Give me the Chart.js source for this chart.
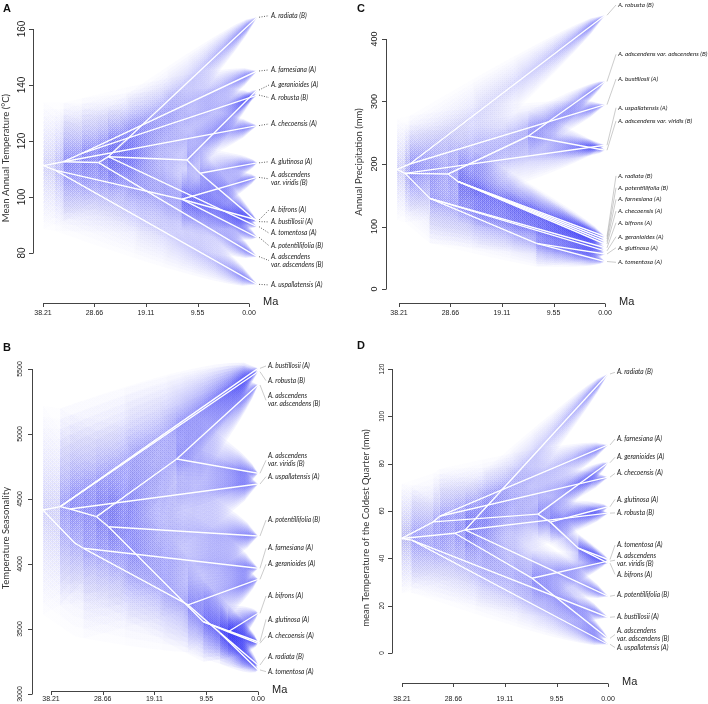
<!DOCTYPE html>
<html>
<head>
<meta charset="utf-8">
<script src="https://cdn.jsdelivr.net/npm/chart.js@4.4.1/dist/chart.umd.min.js"></script>
<style>
  html, body { margin: 0; padding: 0; background: #fff; }
  #wrap { position: relative; width: 708px; height: 704px; overflow: hidden; }
  canvas { position: absolute; }
</style>
</head>
<body>
<div id="wrap">
  <canvas id="panelA" width="354" height="340" style="left:0;top:0"></canvas>
  <canvas id="panelC" width="354" height="340" style="left:354px;top:0"></canvas>
  <canvas id="panelB" width="354" height="364" style="left:0;top:340px"></canvas>
  <canvas id="panelD" width="354" height="364" style="left:354px;top:340px"></canvas>
</div>
<script>
// ---- shared data ----
const X_TICKS = [38.21, 28.66, 19.11, 9.55, 0.00];
const TIP_IDS = ['rad', 'far', 'ger', 'rob', 'che', 'glu', 'vir', 'bif', 'bus', 'tom', 'pot', 'ads', 'usp'];
const TIP_LABELS_WRAPPED = [
  'A. radiata (B)', 'A. farnesiana (A)', 'A. geranioides (A)', 'A. robusta (B)',
  'A. checoensis (A)', 'A. glutinosa (A)', 'A. adscendens\nvar. viridis (B)', 'A. bifrons (A)',
  'A. bustillosii (A)', 'A. tomentosa (A)', 'A. potentillifolia (B)',
  'A. adscendens\nvar. adscendens (B)', 'A. uspallatensis (A)'
];
const TIP_LABELS_FLAT = TIP_LABELS_WRAPPED.map(s => s.replace('\n', ' '));

// ---- panel A : mean annual temperature ----
const A_NODE_IDS = ['R', 'n1', 'n2', 'n3', 'n4', 'n5', 'n6', 'n7', 'n8'];
const A_NODE_AGE = [38.15, 35.98, 34.4, 31.0, 27.9, 26.1, 11.5, 9.08, 12.48];
const A_NODE_VALUE = [111.2, 109.6, 112.6, 115.6, 112.3, 114.4, 113.2, 108.5, 99.2];
const A_TIP_AGE = -1.5;
const A_TIP_VALUE = [164.2, 145, 138.2, 136.4, 125.5, 112.2, 107, 91.8, 91.2, 89.4, 85.6, 78.7, 68.8];
const A_LABEL_AT = [164.75, 145.4, 140, 135.5, 126.1, 112.6, 106.5, 95.4, 91.1, 87.1, 82.6, 77.3, 68.6];
const A_EDGES = [
  ['R', 'n1'], ['R', 'n2'], ['n1', 'usp'], ['n1', 'n8'], ['n2', 'n3'], ['n2', 'n4'], ['n2', 'che'],
  ['n3', 'far'], ['n3', 'rob'], ['n4', 'n5'], ['n4', 'ads'], ['n5', 'rad'], ['n5', 'n6'], ['n5', 'tom'],
  ['n6', 'ger'], ['n6', 'n7'], ['n7', 'glu'], ['n7', 'bus'], ['n8', 'vir'], ['n8', 'bif'], ['n8', 'pot']
];
const A_Y_TICKS = [80, 100, 120, 140, 160];

// ---- panel B : temperature seasonality ----
const B_NODE_IDS = ['R', 'b1', 'b2', 'b3', 'b4', 'b5', 'b6', 'b7', 'b8', 'b9', 'b10', 'b11'];
const B_NODE_AGE = [39.7, 36.5, 34.7, 29.8, 15.0, 27.6, 32.2, 33.8, 12.9, 5.5, 10.1, 7.0];
const B_NODE_VALUE = [4415, 4441, 4423, 4364, 4808, 4287, 4121, 4160, 3685, 3479, 3556, 3470];
const B_TIP_AGE = 0;
const B_TIP_VALUE = [3223, 3967, 3882, 5479, 3390, 3402, 4698, 3621, 5505, 3185, 4215, 5377, 4615];
const B_LABEL_AT = [3287, 4121, 3998, 5410, 3446, 3574, 4798, 3754, 5523, 3172, 4338, 5259, 4672];
const B_EDGES = [
  ['R', 'b1'], ['R', 'b7'], ['b1', 'bus'], ['b1', 'rob'], ['b1', 'b2'], ['b2', 'usp'], ['b2', 'b3'],
  ['b3', 'b4'], ['b3', 'b5'], ['b4', 'ads'], ['b4', 'vir'], ['b5', 'pot'], ['b5', 'b10'],
  ['b10', 'b9'], ['b10', 'glu'], ['b9', 'bif'], ['b9', 'che'], ['b7', 'b6'], ['b6', 'far'],
  ['b6', 'b8'], ['b8', 'ger'], ['b8', 'b11'], ['b11', 'rad'], ['b11', 'tom']
];
const B_Y_TICKS = [3000, 3500, 4000, 4500, 5000, 5500];

// ---- panel C : annual precipitation ----
const C_NODE_IDS = ['R', 'c1', 'c2', 'c3', 'c4', 'c5', 'c6', 'c7'];
const C_NODE_AGE = [38.6, 36.2, 37.1, 32.5, 29.1, 27.2, 14.2, 12.7];
const C_NODE_VALUE = [191.5, 200, 185, 145, 184, 171.7, 244.8, 73];
const C_TIP_AGE = 0;
const C_TIP_VALUE = [84, 76, 61, 438, 72, 56, 222, 66, 295, 44, 80, 332, 230];
const C_LABEL_AT = [181, 143.5, 83.7, 454.4, 124.8, 66, 269, 106, 336, 42.7, 162, 375.5, 290];
const C_EDGES = [
  ['R', 'c1'], ['R', 'c2'], ['c1', 'rob'], ['c1', 'bus'], ['c2', 'usp'], ['c2', 'c4'], ['c2', 'c3'],
  ['c4', 'c6'], ['c4', 'c5'], ['c6', 'ads'], ['c6', 'vir'], ['c3', 'c7'], ['c3', 'ger'], ['c3', 'bif'],
  ['c7', 'tom'], ['c7', 'glu'], ['c5', 'rad'], ['c5', 'pot'], ['c5', 'far'], ['c5', 'che']
];
const C_Y_TICKS = [0, 100, 200, 300, 400];

// ---- panel D : mean temperature of the coldest quarter ----
const D_NODE_IDS = ['R', 'd1', 'd2', 'd3', 'd4', 'd5', 'd6', 'd7', 'd8', 'd9'];
const D_NODE_AGE = [38.26, 36.4, 31.2, 32.4, 28.4, 26.5, 13.0, 10.7, 5.5, 14.1];
const D_NODE_VALUE = [48.4, 47.7, 57.8, 55.4, 50.6, 52.0, 58.7, 55.3, 44.3, 31.6];
const D_TIP_AGE = 0;
const D_TIP_VALUE = [117.9, 87.9, 80.4, 59.1, 74.3, 61.8, 38.8, 38.0, 15.1, 39.5, 24.0, 6.2, 3.7];
const D_LABEL_AT = [118.6, 90.4, 82.7, 59.2, 75.9, 64.9, 39.2, 33.2, 15.3, 45.6, 24.4, 7.8, 2.3];
const D_EDGES = [
  ['R', 'd1'], ['R', 'd3'], ['R', 'd4'], ['d3', 'd2'], ['d3', 'd6'], ['d4', 'd5'], ['d4', 'd9'],
  ['d1', 'usp'], ['d1', 'bus'], ['d2', 'far'], ['d2', 'che'], ['d5', 'rad'], ['d5', 'pot'], ['d5', 'rob'],
  ['d6', 'ger'], ['d6', 'd7'], ['d7', 'glu'], ['d7', 'd8'], ['d8', 'tom'], ['d8', 'bif'],
  ['d9', 'vir'], ['d9', 'ads']
];
const D_Y_TICKS = [0, 20, 40, 60, 80, 100, 120];

// ---- drawing ----
const ROOT_AGE = 38.21;

function makePanel(canvasId, d, lay) {
  const canvas = document.getElementById(canvasId);
  const W = canvas.width, H = canvas.height;

  // scale ranges from the axis anchors
  const kx = (lay.x0 - lay.x38) / ROOT_AGE;
  const tLeft = ROOT_AGE + lay.x38 / kx;
  const tRight = ROOT_AGE - (W - lay.x38) / kx;
  const ky = (lay.yBot[1] - lay.yTop[1]) / (lay.yTop[0] - lay.yBot[0]);
  const vTop = lay.yTop[0] + lay.yTop[1] / ky;
  const vBottom = lay.yTop[0] - (H - lay.yTop[1]) / ky;

  const pos = key => {
    const i = d.nodeIds.indexOf(key);
    if (i >= 0) return { x: d.nodeAge[i], y: d.nodeValue[i] };
    return { x: d.tipAge, y: d.tipValue[TIP_IDS.indexOf(key)] };
  };

  const datasets = d.edges.map(([p, c]) => ({
    data: [pos(p), pos(c)],
    showLine: true,
    borderColor: '#ffffff',
    borderWidth: 1.4,
    pointRadius: 0,
    fill: false
  }));

  // posterior spread around a branch, narrowing to the tips
  const width = t => {
    const age = Math.max(t - d.tipAge, 0);
    return d.spread * Math.pow(age / ROOT_AGE, 0.7);
  };
  const alpha = t => {
    const age = Math.max(t - d.tipAge, 0.3);
    return 0.0095 * Math.min(8, Math.pow(ROOT_AGE / age, 0.8));
  };

  const conePlugin = {
    id: 'cones' + canvasId,
    beforeDatasetsDraw(chart) {
      const { ctx, scales: { x, y } } = chart;
      const S = 14, L = 12;
      ctx.save();
      d.edges.forEach(([p, c]) => {
        const a = pos(p), b = pos(c);
        const pts = [];
        for (let i = 0; i <= S; i++) {
          const s = i / S;
          const t = a.x + (b.x - a.x) * s;
          pts.push({ t, v: a.y + (b.y - a.y) * s, w: width(t) });
        }
        const grad = ctx.createLinearGradient(x.getPixelForValue(a.x), 0, x.getPixelForValue(b.x), 0);
        pts.forEach((pt, i) => grad.addColorStop(i / S, `rgba(52,52,245,${alpha(pt.t).toFixed(4)})`));
        ctx.fillStyle = grad;
        for (let k = 1; k <= L; k++) {
          const f = Math.pow(k / L, 1.3);
          ctx.beginPath();
          pts.forEach((pt, i) => {
            const px = x.getPixelForValue(pt.t), py = y.getPixelForValue(pt.v + pt.w * f);
            if (i === 0) ctx.moveTo(px, py); else ctx.lineTo(px, py);
          });
          for (let i = pts.length - 1; i >= 0; i--) {
            const pt = pts[i];
            ctx.lineTo(x.getPixelForValue(pt.t), y.getPixelForValue(pt.v - pt.w * f));
          }
          ctx.closePath();
          ctx.fill();
        }
      });
      ctx.restore();
    },
    afterDraw(chart) {
      const { ctx, scales: { x, y } } = chart;
      ctx.save();
      ctx.strokeStyle = '#444';
      ctx.fillStyle = '#222';
      ctx.lineWidth = 1;

      // y axis (R style: line spans first to last tick)
      const yt = d.yTicks;
      ctx.beginPath();
      ctx.moveTo(lay.axisX + 0.5, y.getPixelForValue(yt[0]));
      ctx.lineTo(lay.axisX + 0.5, y.getPixelForValue(yt[yt.length - 1]));
      yt.forEach(v => {
        const py = Math.round(y.getPixelForValue(v)) + 0.5;
        ctx.moveTo(lay.axisX + 0.5, py);
        ctx.lineTo(lay.axisX - 4, py);
      });
      ctx.stroke();
      ctx.font = `${lay.tickFont}px "Liberation Sans", Arial, sans-serif`;
      ctx.textAlign = 'center';
      ctx.textBaseline = 'middle';
      yt.forEach(v => {
        ctx.save();
        ctx.translate(lay.yLabelX, y.getPixelForValue(v));
        ctx.rotate(-Math.PI / 2);
        ctx.fillText(String(v), 0, 0);
        ctx.restore();
      });

      // x axis
      ctx.beginPath();
      ctx.moveTo(x.getPixelForValue(X_TICKS[0]), lay.xAxisY + 0.5);
      ctx.lineTo(x.getPixelForValue(X_TICKS[X_TICKS.length - 1]), lay.xAxisY + 0.5);
      X_TICKS.forEach(t => {
        const px = Math.round(x.getPixelForValue(t)) + 0.5;
        ctx.moveTo(px, lay.xAxisY + 0.5);
        ctx.lineTo(px, lay.xAxisY + 4);
      });
      ctx.stroke();
      ctx.font = '7px "Liberation Sans", Arial, sans-serif';
      X_TICKS.forEach(t => ctx.fillText(t.toFixed(2), x.getPixelForValue(t), lay.xLabelY));
      ctx.font = '11px "Liberation Sans", Arial, sans-serif';
      ctx.textAlign = 'left';
      ctx.fillText('Ma', x.getPixelForValue(0) + 14, lay.xAxisY - 1);

      // y title
      ctx.save();
      ctx.font = '9.5px Lato, "Open Sans", sans-serif';
      ctx.fillStyle = '#333';
      ctx.textAlign = 'center';
      ctx.translate(lay.titleX, lay.titleY);
      ctx.rotate(-Math.PI / 2);
      ctx.fillText(d.title, 0, 0);
      ctx.restore();

      // panel letter
      ctx.font = 'bold 11px "Liberation Sans", Arial, sans-serif';
      ctx.fillStyle = '#111';
      ctx.textAlign = 'left';
      ctx.textBaseline = 'alphabetic';
      ctx.fillText(lay.letter, 3, lay.letterY);

      // tip labels with leaders
      ctx.font = `italic ${lay.labelFont}px Lato, "Open Sans", sans-serif`;
      ctx.textBaseline = 'middle';
      TIP_IDS.forEach((id, j) => {
        const tx = x.getPixelForValue(d.tipAge), ty = y.getPixelForValue(d.tipValue[j]);
        const cy = y.getPixelForValue(d.labelAt[j]);
        ctx.beginPath();
        if (d.dotted) {
          ctx.setLineDash([1, 1.5]);
          ctx.strokeStyle = '#333';
          ctx.lineWidth = 0.8;
        } else {
          ctx.setLineDash([]);
          ctx.strokeStyle = '#aaa';
          ctx.lineWidth = 0.6;
        }
        ctx.moveTo(tx + 2, ty);
        ctx.lineTo(lay.labelX - 2, cy);
        ctx.stroke();
        const text = d.wrap ? TIP_LABELS_WRAPPED[j] : TIP_LABELS_FLAT[j];
        const lines = text.split('\n');
        ctx.fillStyle = '#222';
        lines.forEach((ln, i) => ctx.fillText(ln, lay.labelX, cy + (i - (lines.length - 1) / 2) * 8));
      });
      ctx.restore();
    }
  };

  return new Chart(canvas, {
    type: 'scatter',
    data: { datasets },
    options: {
      responsive: false,
      devicePixelRatio: 1,
      animation: false,
      events: [],
      layout: { padding: 0 },
      plugins: { legend: { display: false }, tooltip: { enabled: false } },
      scales: {
        x: { type: 'linear', reverse: true, min: tRight, max: tLeft, display: false },
        y: { type: 'linear', min: vBottom, max: vTop, display: false }
      }
    },
    plugins: [conePlugin]
  });
}

makePanel('panelA', {
  nodeIds: A_NODE_IDS, nodeAge: A_NODE_AGE, nodeValue: A_NODE_VALUE, tipAge: A_TIP_AGE,
  tipValue: A_TIP_VALUE, labelAt: A_LABEL_AT, edges: A_EDGES, yTicks: A_Y_TICKS,
  title: 'Mean Annual Temperature (°C)', wrap: true, dotted: true, spread: 22
}, { x38: 43, x0: 249, yTop: [160, 29], yBot: [80, 253], axisX: 33, xAxisY: 303, xLabelY: 313,
     yLabelX: 22, tickFont: 10, titleX: 6, titleY: 158, labelX: 271, labelFont: 6.6, letter: 'A', letterY: 12 });

makePanel('panelC', {
  nodeIds: C_NODE_IDS, nodeAge: C_NODE_AGE, nodeValue: C_NODE_VALUE, tipAge: C_TIP_AGE,
  tipValue: C_TIP_VALUE, labelAt: C_LABEL_AT, edges: C_EDGES, yTicks: C_Y_TICKS,
  title: 'Annual Precipitation (mm)', wrap: false, dotted: false, spread: 80
}, { x38: 45, x0: 251, yTop: [400, 39], yBot: [0, 289], axisX: 32, xAxisY: 303, xLabelY: 313,
     yLabelX: 21, tickFont: 9, titleX: 5, titleY: 162, labelX: 264, labelFont: 6.35, letter: 'C', letterY: 12 });

makePanel('panelB', {
  nodeIds: B_NODE_IDS, nodeAge: B_NODE_AGE, nodeValue: B_NODE_VALUE, tipAge: B_TIP_AGE,
  tipValue: B_TIP_VALUE, labelAt: B_LABEL_AT, edges: B_EDGES, yTicks: B_Y_TICKS,
  title: 'Temperature Seasonality', wrap: true, dotted: false, spread: 780
}, { x38: 51, x0: 258, yTop: [5500, 29], yBot: [3000, 354], axisX: 32, xAxisY: 351, xLabelY: 359,
     yLabelX: 20, tickFont: 7, titleX: 6, titleY: 198, labelX: 268, labelFont: 6.6, letter: 'B', letterY: 11 });

makePanel('panelD', {
  nodeIds: D_NODE_IDS, nodeAge: D_NODE_AGE, nodeValue: D_NODE_VALUE, tipAge: D_TIP_AGE,
  tipValue: D_TIP_VALUE, labelAt: D_LABEL_AT, edges: D_EDGES, yTicks: D_Y_TICKS,
  title: 'mean Temperature of the Coldest Quarter (mm)', wrap: true, dotted: false, spread: 23
}, { x38: 48, x0: 254, yTop: [120, 29], yBot: [0, 313], axisX: 38, xAxisY: 343, xLabelY: 359,
     yLabelX: 28, tickFont: 6.5, titleX: 12, titleY: 188, labelX: 263, labelFont: 6.6, letter: 'D', letterY: 9 });
</script>
</body>
</html>
